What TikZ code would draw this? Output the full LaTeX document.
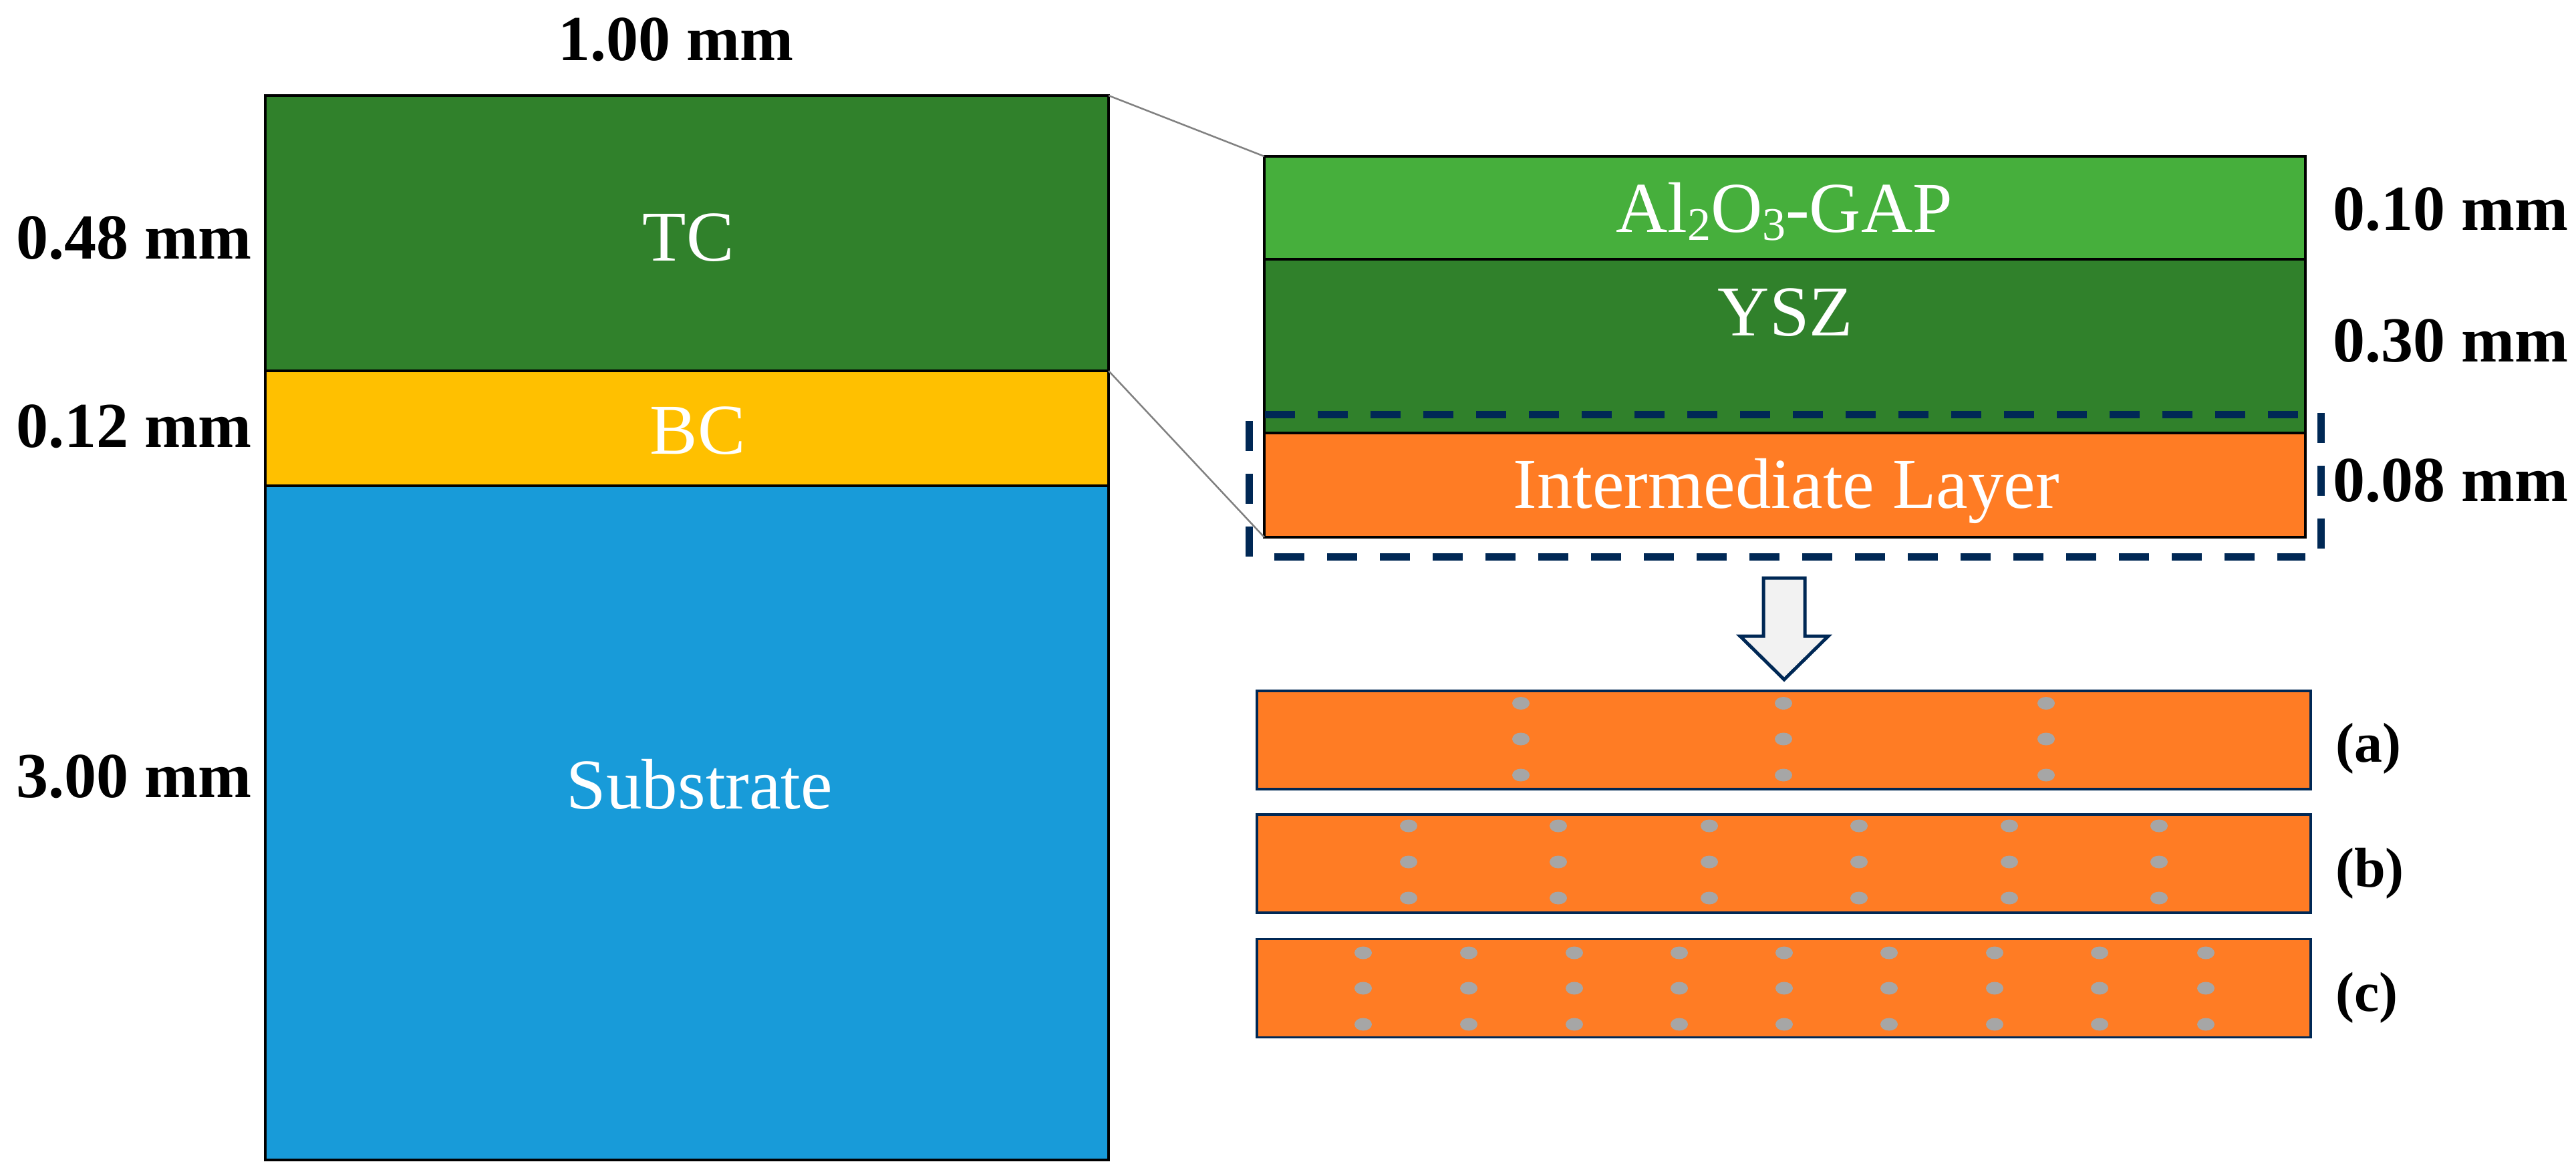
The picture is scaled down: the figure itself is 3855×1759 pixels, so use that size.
\documentclass[tikz,border=0pt]{standalone}
\usepackage{fontspec}
\setmainfont{Liberation Serif}
\definecolor{tcgreen}{HTML}{30812B}
\definecolor{bcyellow}{HTML}{FFC000}
\definecolor{subblue}{HTML}{189BD9}
\definecolor{gapgreen}{HTML}{46AF3C}
\definecolor{ilorange}{HTML}{FF7C24}
\definecolor{navyline}{HTML}{002855}
\definecolor{poregray}{HTML}{A6A6A6}
\tikzset{
  layerbox/.style={draw=black,line width=4.5pt,inner sep=0pt,outer sep=0pt,rectangle},
  stripbox/.style={draw=navyline,line width=3.5pt,fill=ilorange,inner sep=0pt,outer sep=0pt,rectangle,minimum width=1577pt,minimum height=147pt},
  laytext/.style={text=white,anchor=base,inner sep=0pt,font=\fontsize{107}{120}\selectfont},
  dimtext/.style={text=black,anchor=base west,inner sep=0pt,font=\fontsize{96}{110}\selectfont\bfseries},
  casetext/.style={text=black,anchor=base west,inner sep=0pt,font=\fontsize{84}{96}\selectfont\bfseries},
  zoomline/.style={draw=black!50,line width=2.5pt},
  dashline/.style={draw=navyline,line width=11pt,dash pattern=on 45pt off 34pt},
  pore/.style={fill=poregray},
}
\begin{document}
\begin{tikzpicture}[x=1pt,y=-1pt]
\useasboundingbox (0,0) rectangle (3855,1759);
% left stack
\node[layerbox,fill=tcgreen,minimum width=1262pt,minimum height=412pt] (tc) at (1028,349) {};
\node[layerbox,fill=bcyellow,minimum width=1262pt,minimum height=172pt] (bc) at (1028,641) {};
\node[layerbox,fill=subblue,minimum width=1262pt,minimum height=1009pt] (sub) at (1028,1231.5) {};
\node[laytext] (tct) at (1030,390) {TC};
\node[laytext] (bct) at (1044,679) {BC};
\node[laytext] (subt) at (1047,1210) {Substrate};
% dims left
\node[dimtext,anchor=base] (d100) at (1011,90) {1.00 mm};
\node[dimtext] (d048) at (24,387) {0.48 mm};
\node[dimtext] (d012) at (24,669) {0.12 mm};
\node[dimtext] (d300) at (24,1193) {3.00 mm};
% right stack
\node[layerbox,fill=gapgreen,minimum width=1558pt,minimum height=154pt] (gap) at (2671,311) {};
\node[layerbox,fill=tcgreen,minimum width=1558pt,minimum height=260pt] (ysz) at (2671,518) {};
\node[layerbox,fill=ilorange,minimum width=1558pt,minimum height=156pt] (il) at (2671,726) {};
\node[laytext] (gapt) at (2670,347) {Al\raisebox{-0.12em}{\fontsize{70}{80}\selectfont 2}O\raisebox{-0.12em}{\fontsize{70}{80}\selectfont 3}-GAP};
\node[laytext] (yszt) at (2672,502) {YSZ};
\node[laytext] (ilt) at (2673,760) {Intermediate Layer};
\node[dimtext] (d010) at (3491,344) {0.10 mm};
\node[dimtext] (d030) at (3491,541) {0.30 mm};
\node[dimtext] (d008) at (3491,750) {0.08 mm};
% zoom lines
\draw[zoomline] (tc.north east) -- (gap.north west);
\draw[zoomline] (tc.south east) -- (il.south west);
% dashed frame
\coordinate (dtl) at (1893,620);
\coordinate (dtr) at (3439,620);
\coordinate (dbl) at (1907,833);
\coordinate (dbr) at (3450,833);
\coordinate (dlt) at (1869,630);
\coordinate (dlb) at (1869,837);
\coordinate (drt) at (3473,618);
\coordinate (drb) at (3473,822);
\draw[dashline] (dtl) -- (dtr);
\draw[dashline] (dbl) -- (dbr);
\draw[dashline] (dlt) -- (dlb);
\draw[dashline] (drt) -- (drb);
% arrow
\draw[draw=navyline,fill=black!5,line width=5pt,line join=miter]
  (2639,865) -- (2701,865) -- (2701,952) -- (2736,952) -- (2670,1017) -- (2604,952) -- (2639,952) -- cycle;
% strips
\node[stripbox] (sa) at (2669.5,1107.5) {};
\node[stripbox] (sb) at (2669.5,1292.5) {};
\node[stripbox] (sc) at (2669.5,1479) {};
\foreach \x in {2276,2669,3062}
  \foreach \y in {1052.5,1106,1160}
    \fill[pore] (\x,\y) ellipse [x radius=13,y radius=9.5];
\foreach \x in {2108,2332,2558,2782,3007,3231}
  \foreach \y in {1236,1290,1344}
    \fill[pore] (\x,\y) ellipse [x radius=13,y radius=9.5];
\foreach \x in {2040,2198,2356,2513,2670,2827,2985,3142,3301}
  \foreach \y in {1426,1479,1533}
    \fill[pore] (\x,\y) ellipse [x radius=13,y radius=9.5];
\node[casetext] (ca) at (3495,1140) {(a)};
\node[casetext] (cb) at (3495,1327) {(b)};
\node[casetext] (cc) at (3495,1513) {(c)};
\end{tikzpicture}
\end{document}
